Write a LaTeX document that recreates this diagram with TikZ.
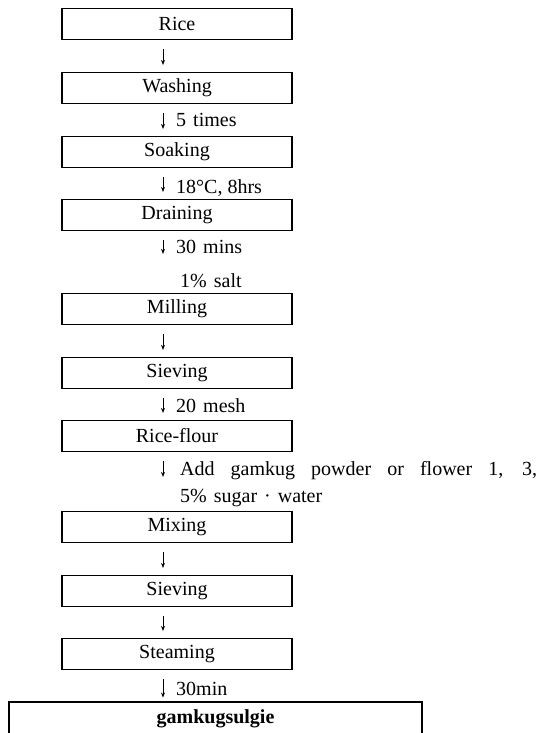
\documentclass[tikz,border=0pt]{standalone}
\usepackage{fontspec}
\setmainfont{Liberation Serif}
\usetikzlibrary{arrows.meta}
\begin{document}
\begin{tikzpicture}[
    x=1pt, y=-1pt,
    every node/.style={font=\fontsize{20}{24}\selectfont},
    box/.style={rectangle, draw=black, line width=1.2pt, minimum width=230pt, minimum height=31pt, inner sep=0pt},
    note/.style={anchor=west, inner sep=0pt},
    arr/.style={-{Stealth[length=5pt, width=4pt]}, line width=0.9pt, shorten <=9pt, shorten >=7pt}
]
\useasboundingbox (0,0) rectangle (540,733);
\coordinate (col) at (163,0);
% process steps
\node[box] (rice)     at (177,24)  {Rice};
\node[box] (wash)     at (177,88)  {Washing};
\node[box] (soak)     at (177,152) {Soaking};
\node[box] (drain)    at (177,215) {Draining};
\node[box] (mill)     at (177,309) {Milling};
\node[box] (sieve)    at (177,373) {Sieving};
\node[box] (flour)    at (177,436) {Rice-flour};
\node[box] (mix)      at (177,527) {Mixing};
\node[box] (sievetwo) at (177,591) {Sieving};
\node[box] (steam)    at (177,654) {Steaming};
\node[box, line width=2pt, minimum width=413pt, minimum height=34pt, font=\fontsize{20}{24}\selectfont\bfseries] (sulgie) at (215.5,718.5) {gamkugsulgie};
% conditions
\node[note] (lwash)  at (176,120) {5\hspace{7pt}times};
\node[note] (lsoak)  at (176,188) {18°C, 8hrs};
\node[note] (ldrain) at (176,247) {30\hspace{7pt}mins};
\node[note] (lsalt)  at (180,281) {1\%\hspace{7pt}salt};
\node[note] (lsieve) at (176,406) {20\hspace{7pt}mesh};
\node[note] (ladd)   at (180,471) {\makebox[357pt][s]{Add gamkug powder or flower 1, 3,}};
\node[note] (lsugar) at (180,498) {5\%\hspace{7pt}sugar\hspace{7pt}·\hspace{7pt}water};
\node[note] (lsteam) at (176,689) {30min};
% flow
\draw[arr] (rice.south -| col)     -- (wash.north -| col);
\draw[arr] (wash.south -| col)     -- (soak.north -| col);
\draw[arr] (soak.south -| col)     -- (drain.north -| col);
\draw[arr, shorten >=39pt] (drain.south -| col) -- (mill.north -| col);
\draw[arr] (mill.south -| col)     -- (sieve.north -| col);
\draw[arr] (sieve.south -| col)    -- (flour.north -| col);
\draw[arr, shorten >=34pt] (flour.south -| col) -- (mix.north -| col);
\draw[arr] (mix.south -| col)      -- (sievetwo.north -| col);
\draw[arr] (sievetwo.south -| col) -- (steam.north -| col);
\draw[arr, shorten >=3pt] (steam.south -| col) -- (sulgie.north -| col);
\end{tikzpicture}
\end{document}
